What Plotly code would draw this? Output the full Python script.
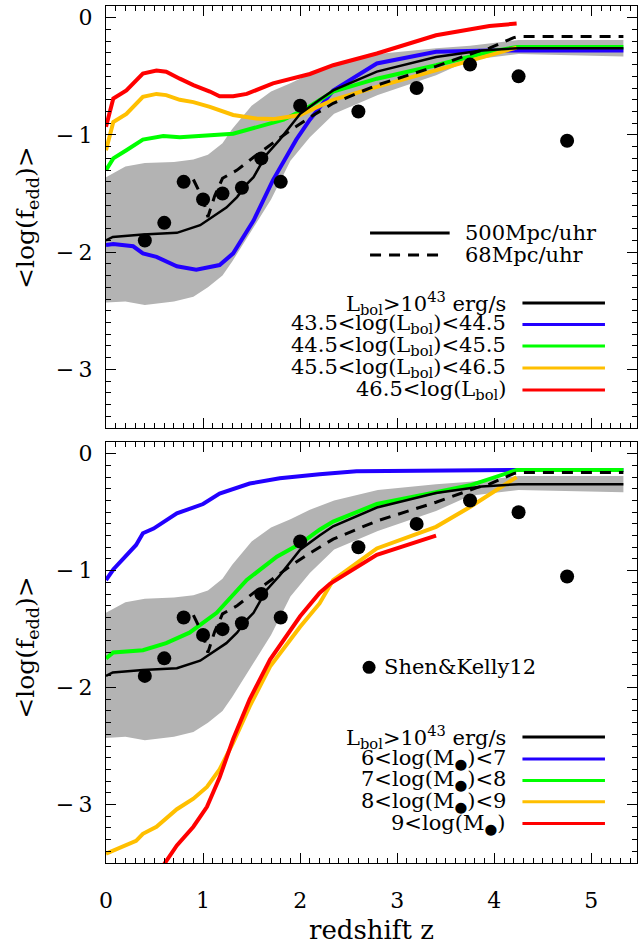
import plotly.graph_objects as go

# ---------------- data ----------------
# Shen & Kelly 2012 points
sk_z = [0.4, 0.6, 0.8, 1.0, 1.2, 1.4, 1.6, 1.8, 2.0, 2.6, 3.2, 3.75, 4.25, 4.75]
sk_v = [-1.90, -1.75, -1.40, -1.55, -1.50, -1.45, -1.20, -1.40, -0.75, -0.80, -0.60, -0.40, -0.50, -1.05]

# gray band (spread of the Lbol>1e43 sample)
band_z = [0, 0.2, 0.4, 0.7, 0.9, 1.05, 1.2, 1.3, 1.5, 1.7, 1.9, 2.1, 2.35, 2.8, 3.4, 3.75, 4.25, 5.33]
band_hi = [-1.36, -1.27, -1.24, -1.23, -1.21, -1.17, -1.07, -0.95, -0.75, -0.63, -0.56, -0.48, -0.40, -0.31, -0.26, -0.24, -0.19, -0.19]
band_lo = [-2.43, -2.42, -2.45, -2.42, -2.38, -2.30, -2.20, -2.08, -1.82, -1.55, -1.22, -1.02, -0.82, -0.66, -0.49, -0.36, -0.31, -0.33]

# Lbol > 1e43, 500 Mpc/uhr (solid)
all_z = [0, 0.07, 0.38, 0.73, 0.97, 1.14, 1.24, 1.35, 1.45, 1.52, 1.65, 1.79, 1.9, 2.0, 2.2, 2.34, 2.79, 3.4, 3.87, 4.25, 5.33]
all_v = [-1.90, -1.87, -1.85, -1.835, -1.77, -1.68, -1.62, -1.53, -1.42, -1.36, -1.17, -1.04, -0.92, -0.82, -0.70, -0.62, -0.46, -0.335, -0.28, -0.26, -0.26]

# Lbol > 1e43, 68 Mpc/uhr (dashed)
hr_z = [0.9, 1.0, 1.05, 1.12, 1.2, 1.35, 1.52, 1.72, 1.9, 2.1, 2.34, 2.79, 3.4, 3.82, 3.95, 4.2, 4.25, 5.33]
hr_v = [-1.38, -1.55, -1.70, -1.52, -1.37, -1.30, -1.19, -1.07, -0.96, -0.85, -0.73, -0.575, -0.415, -0.29, -0.26, -0.17, -0.16, -0.16]

# top panel: luminosity bins
l1_z = [0, 0.075, 0.28, 0.38, 0.52, 0.73, 0.93, 1.17, 1.31, 1.52, 1.72, 1.96, 2.1, 2.34, 2.79, 3.4, 3.95, 4.25, 5.33]
l1_v = [-1.94, -1.93, -1.95, -2.01, -2.04, -2.12, -2.15, -2.11, -2.01, -1.73, -1.385, -1.04, -0.87, -0.62, -0.39, -0.29, -0.28, -0.28, -0.28]

l2_z = [0, 0.075, 0.21, 0.38, 0.59, 0.76, 1.31, 1.52, 1.83, 2.07, 2.34, 2.79, 3.4, 3.95, 4.23, 5.33]
l2_v = [-1.30, -1.20, -1.13, -1.04, -1.01, -1.02, -0.99, -0.945, -0.87, -0.77, -0.63, -0.52, -0.405, -0.29, -0.25, -0.25]

l3_z = [0, 0.075, 0.21, 0.38, 0.52, 0.62, 0.76, 0.9, 1.07, 1.31, 1.55, 1.72, 2.0, 2.34, 2.79, 3.4, 3.89, 4.23]
l3_v = [-1.13, -0.89, -0.82, -0.675, -0.65, -0.66, -0.70, -0.72, -0.76, -0.83, -0.86, -0.865, -0.83, -0.70, -0.59, -0.45, -0.33, -0.255]

l4_z = [0, 0.075, 0.21, 0.38, 0.52, 0.62, 0.76, 0.9, 1.07, 1.17, 1.31, 1.45, 1.72, 2.1, 2.34, 2.79, 3.4, 3.95, 4.23]
l4_v = [-0.93, -0.69, -0.62, -0.476, -0.45, -0.46, -0.52, -0.575, -0.63, -0.67, -0.67, -0.65, -0.56, -0.48, -0.405, -0.305, -0.15, -0.07, -0.05]

# bottom panel: black-hole mass bins
m1_z = [0, 0.075, 0.31, 0.38, 0.49, 0.73, 1.0, 1.17, 1.48, 1.79, 2.2, 2.58, 4.16, 5.33]
m1_v = [-1.08, -0.99, -0.78, -0.68, -0.64, -0.51, -0.43, -0.34, -0.255, -0.21, -0.176, -0.15, -0.14, -0.14]

m2_z = [0, 0.075, 0.38, 0.62, 0.86, 1.14, 1.45, 1.76, 2.0, 2.2, 2.34, 2.79, 3.4, 3.75, 4.23, 5.33]
m2_v = [-1.75, -1.70, -1.68, -1.62, -1.53, -1.36, -1.08, -0.88, -0.77, -0.65, -0.58, -0.43, -0.33, -0.27, -0.14, -0.14]

m3_z = [0, 0.31, 0.38, 0.52, 0.73, 0.9, 1.04, 1.17, 1.31, 1.48, 1.69, 2.0, 2.2, 2.34, 2.79, 3.4, 3.75, 4.23]
m3_v = [-3.42, -3.31, -3.25, -3.19, -3.04, -2.95, -2.85, -2.70, -2.47, -2.16, -1.82, -1.48, -1.28, -1.08, -0.81, -0.625, -0.455, -0.20]

m4_z = [0.55, 0.73, 0.9, 1.04, 1.17, 1.31, 1.48, 1.69, 2.0, 2.2, 2.31, 2.79, 3.4]
m4_v = [-3.57, -3.35, -3.19, -3.02, -2.77, -2.44, -2.10, -1.76, -1.39, -1.19, -1.11, -0.865, -0.70]

top_labels = ["L<sub>bol</sub>>10<sup>43</sup> erg/s",
              "43.5<log(L<sub>bol</sub>)<44.5",
              "44.5<log(L<sub>bol</sub>)<45.5",
              "45.5<log(L<sub>bol</sub>)<46.5",
              "46.5<log(L<sub>bol</sub>)"]
bot_labels = ["L<sub>bol</sub>>10<sup>43</sup> erg/s",
              "6<log(M<sub>●</sub>)<7",
              "7<log(M<sub>●</sub>)<8",
              "8<log(M<sub>●</sub>)<9",
              "9<log(M<sub>●</sub>)"]
colors = ["#000000", "#2200ff", "#00ff00", "#ffbf00", "#ff0000"]

x_ticks = [0, 1, 2, 3, 4, 5]
y_ticks = [0, -1, -2, -3]
y_ticktext = ["0", "\u2212\u20091", "\u2212\u20092", "\u2212\u20093"]

FONT = "DejaVu Serif"
GRAY = "#b3b3b3"

fig = go.Figure()

def add_panel(xa, ya, lines):
    # band
    fig.add_trace(go.Scatter(x=band_z + band_z[::-1], y=band_hi + band_lo[::-1],
                             fill="toself", fillcolor=GRAY, line=dict(width=0),
                             mode="lines", hoverinfo="skip", showlegend=False,
                             xaxis=xa, yaxis=ya))
    for (zz, vv), c in zip(lines, colors[1:]):
        fig.add_trace(go.Scatter(x=zz, y=vv, mode="lines", line=dict(color=c, width=4),
                                 showlegend=False, xaxis=xa, yaxis=ya))
    fig.add_trace(go.Scatter(x=all_z, y=all_v, mode="lines", line=dict(color="black", width=2.5),
                             showlegend=False, xaxis=xa, yaxis=ya))
    fig.add_trace(go.Scatter(x=hr_z, y=hr_v, mode="lines",
                             line=dict(color="black", width=3, dash="11px,8px"),
                             showlegend=False, xaxis=xa, yaxis=ya))
    fig.add_trace(go.Scatter(x=sk_z, y=sk_v, mode="markers",
                             marker=dict(color="black", size=14, line=dict(width=0)),
                             showlegend=False, xaxis=xa, yaxis=ya))

add_panel("x", "y", [(l1_z, l1_v), (l2_z, l2_v), (l3_z, l3_v), (l4_z, l4_v)])
add_panel("x2", "y2", [(m1_z, m1_v), (m2_z, m2_v), (m3_z, m3_v), (m4_z, m4_v)])

XR = [0, 5.47]
YR = [-3.5, 0.1]

def ax_common():
    return dict(showline=True, linecolor="black", linewidth=1, mirror="allticks",
                ticks="inside", ticklen=10, tickwidth=1, tickcolor="black",
                showgrid=False, zeroline=False,
                minor=dict(ticks="inside", ticklen=5, tickwidth=1, tickcolor="black", dtick=0.1,
                           showgrid=False),
                tickfont=dict(family=FONT, size=22, color="black"))

fig.update_layout(
    width=638, height=945,
    margin=dict(l=106, r=1, t=6, b=82),
    paper_bgcolor="white", plot_bgcolor="white",
    showlegend=False,
    xaxis=dict(domain=[0, 1], range=XR, anchor="y", tickvals=x_ticks, showticklabels=False,
               **ax_common()),
    yaxis=dict(domain=[0.5076, 1], range=YR, anchor="x", tickvals=y_ticks, ticktext=y_ticktext,
               ticklabelstandoff=8, **ax_common()),
    xaxis2=dict(domain=[0, 1], range=XR, anchor="y2", tickvals=x_ticks,
                ticktext=[str(t) for t in x_ticks], ticklabelstandoff=18, **ax_common()),
    yaxis2=dict(domain=[0, 0.4912], range=YR, anchor="x2", tickvals=y_ticks, ticktext=y_ticktext,
                ticklabelstandoff=8, **ax_common()),
)

ann = []
shapes = []
tfont = dict(family=FONT, size=21, color="black")

# axis titles
for yc in (0.7526, 0.251):
    ann.append(dict(text="<log(f<sub>edd</sub>)>", xref="paper", yref="paper", x=-0.149, y=yc,
                    textangle=-90, showarrow=False, xanchor="center", yanchor="middle",
                    font=dict(family=FONT, size=25, color="black")))
ann.append(dict(text="redshift z", xref="paper", yref="paper", x=0.5, y=-0.078,
                showarrow=False, xanchor="center", yanchor="middle",
                font=dict(family=FONT, size=26, color="black")))

# top panel: resolution legend
res_rows = [("500Mpc/uhr", -1.837, "solid"), ("68Mpc/uhr", -2.025, "11px,8px")]
for txt, yv, d in res_rows:
    ann.append(dict(text=txt, xref="x", yref="y", x=3.68, y=yv, showarrow=False,
                    xanchor="left", yanchor="middle", font=tfont))
    shapes.append(dict(type="line", xref="x", yref="y", x0=2.72, x1=3.54 if d == "solid" else 3.45,
                       y0=yv, y1=yv, line=dict(color="black", width=3, dash=d)))

# sample legends
top_rows = [-2.434, -2.617, -2.80, -2.988, -3.175]
bot_rows = [-2.423, -2.61, -2.794, -2.976, -3.163]
for (xr, yr, labels, rows) in (("x", "y", top_labels, top_rows), ("x2", "y2", bot_labels, bot_rows)):
    for lab, yv, c in zip(labels, rows, colors):
        ann.append(dict(text=lab, xref=xr, yref=yr, x=4.14, y=yv, showarrow=False,
                        xanchor="right", yanchor="middle", font=tfont))
        shapes.append(dict(type="line", xref=xr, yref=yr, x0=4.29, x1=5.14, y0=yv, y1=yv,
                           line=dict(color=c, width=3)))

# Shen & Kelly legend
ann.append(dict(text="Shen&Kelly12", xref="x2", yref="y2", x=2.84, y=-1.827, showarrow=False,
                xanchor="left", yanchor="middle", font=tfont))
shapes.append(dict(type="circle", xref="x2", yref="y2", xsizemode="pixel", ysizemode="pixel",
                   xanchor=2.71, yanchor=-1.827, x0=-6.5, x1=6.5, y0=-6.5, y1=6.5,
                   fillcolor="black", line=dict(width=0)))

fig.update_layout(annotations=ann, shapes=shapes)
fig.write_html("out.html")
